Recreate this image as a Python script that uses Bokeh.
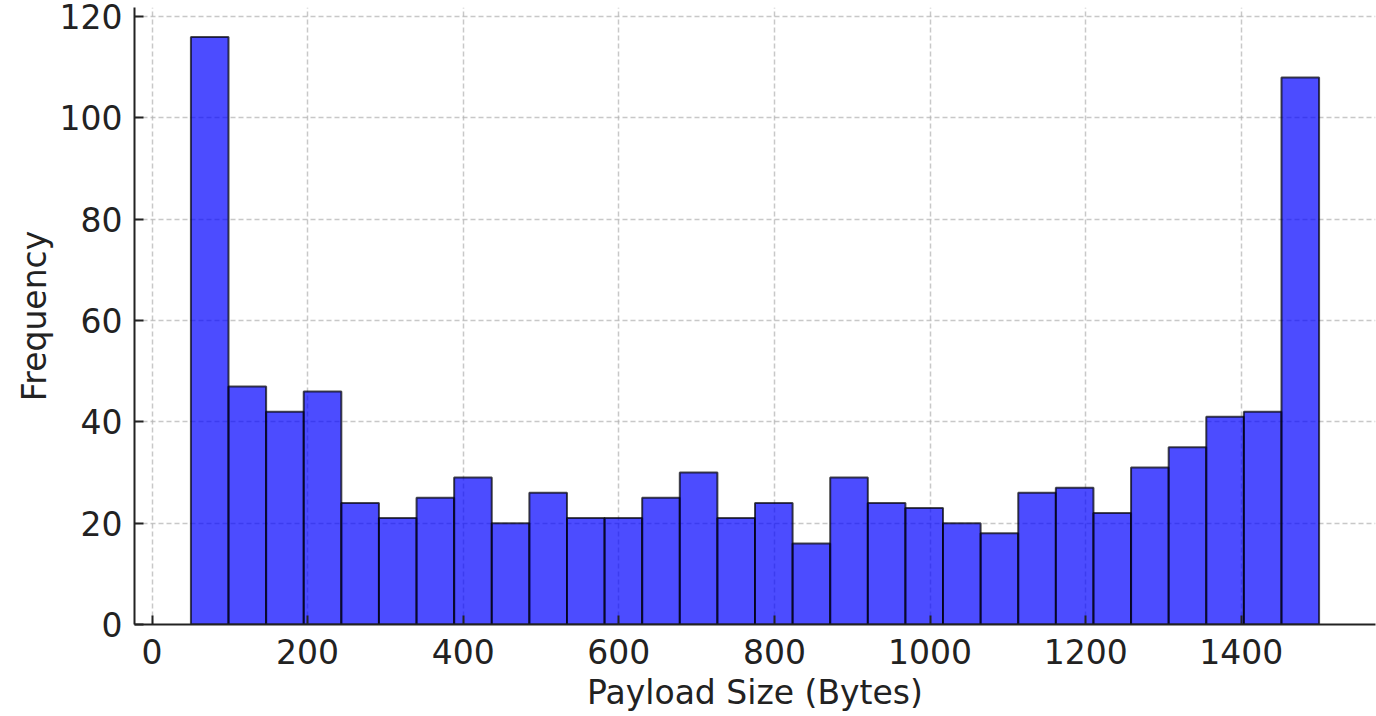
import numpy as np
from bokeh.plotting import figure
from bokeh.models import FixedTicker, Range1d, ColumnDataSource
from bokeh.embed import file_html
from bokeh.resources import INLINE

# Histogram of payload sizes (30 bins from 50 to 1500 bytes)
bin_low = 50
bin_high = 1500
counts = [116, 47, 42, 46, 24, 21, 25, 29, 20, 26,
          21, 21, 25, 30, 21, 24, 16, 29, 24, 23,
          20, 18, 26, 27, 22, 31, 35, 41, 42, 108]
x_ticks = [0, 200, 400, 600, 800, 1000, 1200, 1400]
y_ticks = [0, 20, 40, 60, 80, 100, 120]
x_label = "Payload Size (Bytes)"
y_label = "Frequency"

edges = np.linspace(bin_low, bin_high, len(counts) + 1)
src = ColumnDataSource(dict(left=edges[:-1], right=edges[1:], top=counts,
                            bottom=[0] * len(counts)))

span = bin_high - bin_low
p = figure(width=1376, height=716, output_backend="svg", toolbar_location=None,
           x_range=Range1d(bin_low - 0.05 * span, bin_high + 0.05 * span),
           y_range=Range1d(0, max(counts) * 1.05),
           min_border=0,
           min_border_left=134, min_border_right=1, min_border_top=7,
           min_border_bottom=92)
p.outline_line_color = None
p.background_fill_color = "white"
p.border_fill_color = "white"

p.quad(left="left", right="right", top="top", bottom="bottom", source=src,
       fill_color="blue", fill_alpha=0.7, line_color="black", line_alpha=0.7,
       line_width=2)

FONT = "DejaVu Sans"
TXT = "#222222"
for ax in (p.xaxis[0], p.yaxis[0]):
    ax.axis_line_color = TXT
    ax.axis_line_width = 2
    ax.major_tick_in = 9
    ax.major_tick_out = 0
    ax.major_tick_line_color = TXT
    ax.major_tick_line_width = 2
    ax.minor_tick_line_color = None
    ax.major_label_text_font = FONT
    ax.major_label_text_font_size = "33px"
    ax.major_label_text_color = TXT
    ax.axis_label_text_font = FONT
    ax.axis_label_text_font_size = "33px"
    ax.axis_label_text_font_style = "normal"
    ax.axis_label_text_color = TXT

p.xaxis.ticker = FixedTicker(ticks=x_ticks)
p.yaxis.ticker = FixedTicker(ticks=y_ticks)
p.xaxis.axis_label = x_label
p.yaxis.axis_label = y_label
p.xaxis.major_label_standoff = 14
p.yaxis.major_label_standoff = 12
p.xaxis.axis_label_standoff = 6
p.yaxis.axis_label_standoff = 3

for g in (p.xgrid[0], p.ygrid[0]):
    g.grid_line_color = "#b0b0b0"
    g.grid_line_alpha = 0.7
    g.grid_line_dash = "5 3"
    g.grid_line_width = 1.5
p.xgrid.ticker = FixedTicker(ticks=x_ticks)
p.ygrid.ticker = FixedTicker(ticks=y_ticks)

open("out.html", "w").write(file_html(p, INLINE))
